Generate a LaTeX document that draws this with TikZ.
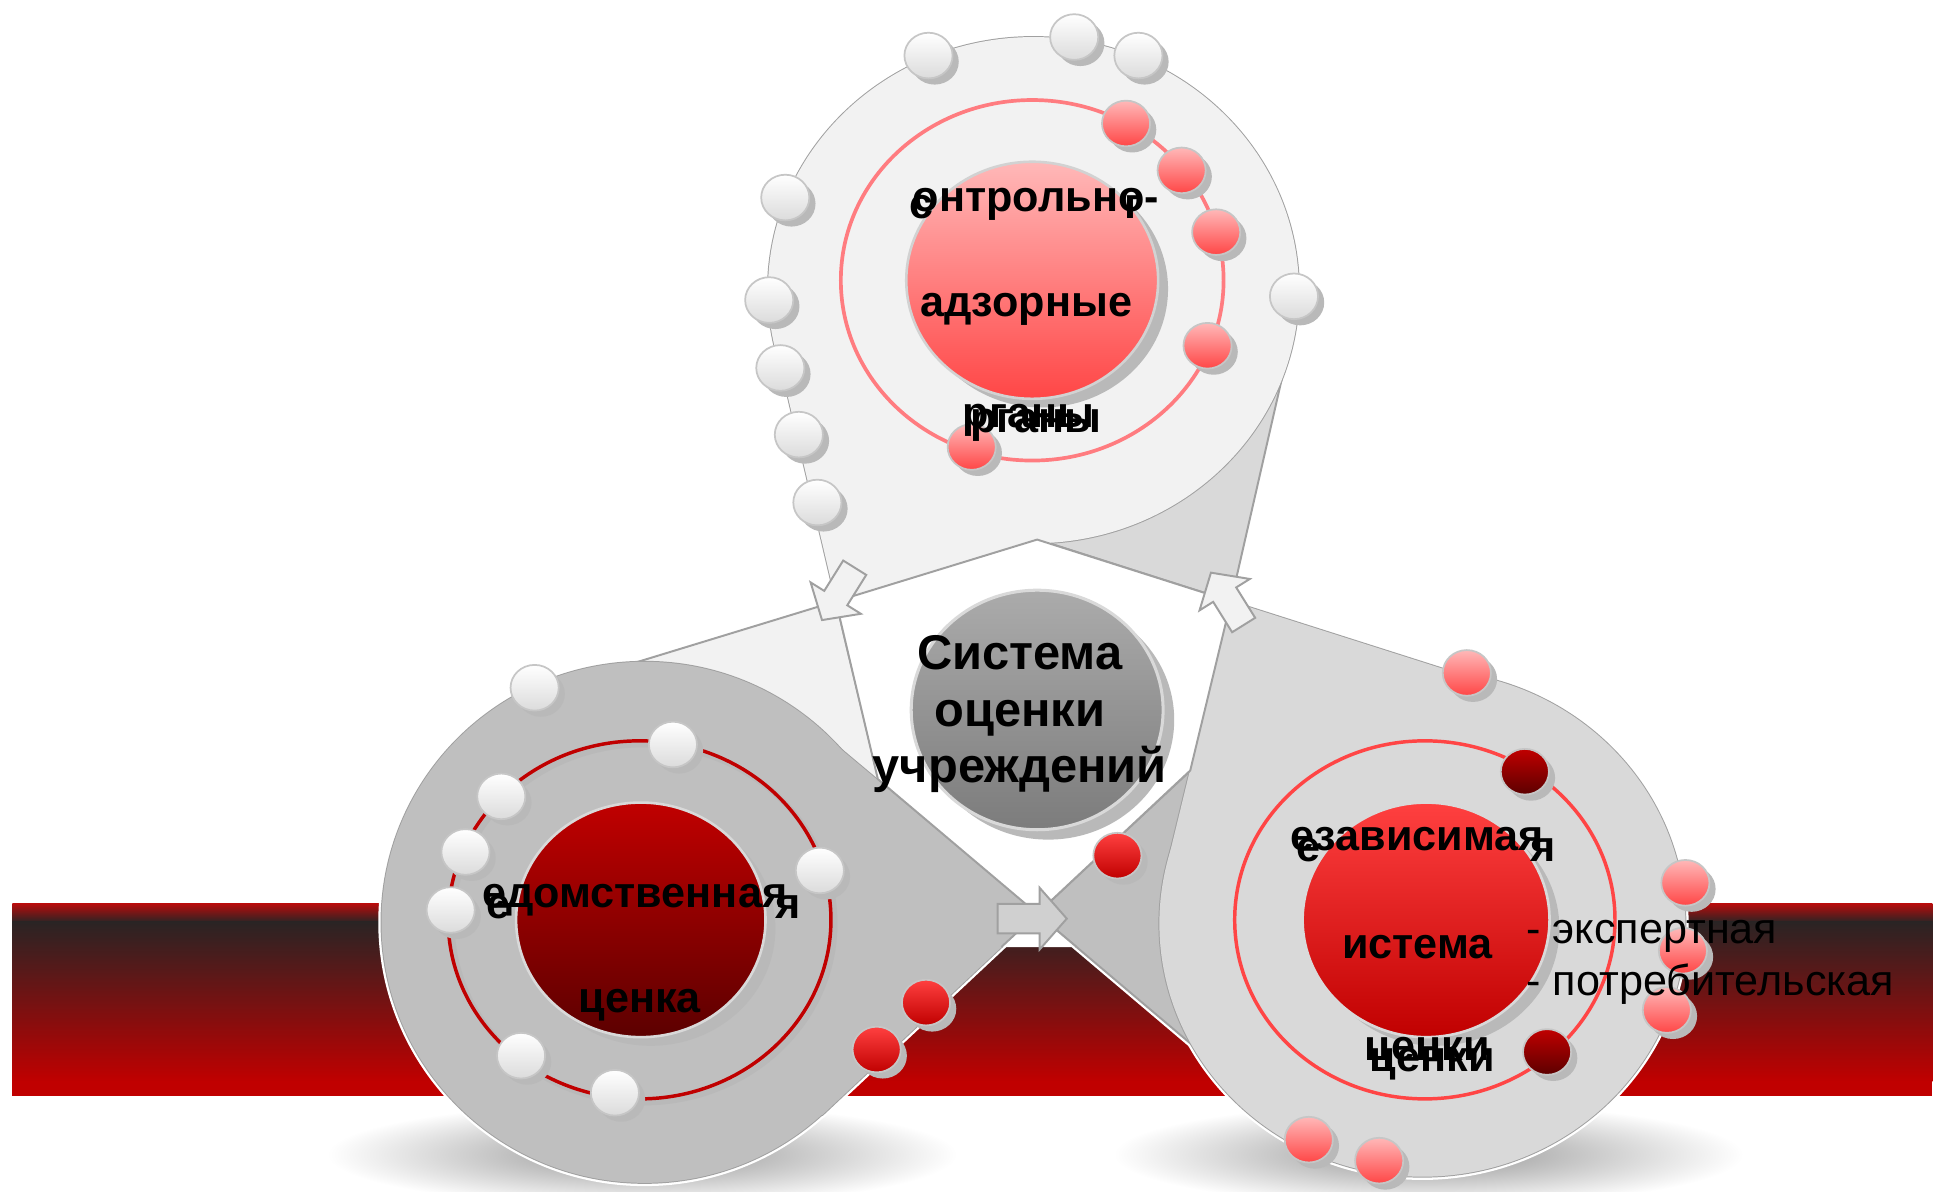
\documentclass[tikz,border=0pt]{standalone}
\usepackage{fontspec}
\setmainfont{Liberation Sans}
\definecolor{bandtop}{HTML}{B50C0C}
\definecolor{banddark}{HTML}{2A2424}
\definecolor{bandred}{HTML}{C00000}
\definecolor{lightF}{HTML}{F2F2F2}
\definecolor{midD}{HTML}{D9D9D9}
\definecolor{darkC}{HTML}{BFBFBF}
\definecolor{edgeg}{HTML}{A0A0A0}
\definecolor{ringpink}{HTML}{FF7C80}
\definecolor{ringred}{HTML}{FF4545}
\definecolor{pinktop}{HTML}{FFB8B8}
\definecolor{pinkbot}{HTML}{FF4646}
\definecolor{redtop}{HTML}{FF4040}
\definecolor{redbot}{HTML}{C00000}
\definecolor{drtop}{HTML}{C00000}
\definecolor{drbot}{HTML}{5C0000}
\definecolor{systop}{HTML}{ABABAB}
\definecolor{sysbot}{HTML}{7C7C7C}
\definecolor{arrB}{HTML}{D0D0D0}
\tikzset{
 edge/.style={draw=edgeg, line width=0.9pt, line join=round},
 halo/.style={draw=white, line width=3pt, line join=round},
 ballshadow/.style={fill=gray!55},
 wball/.style={top color=white, bottom color=gray!28, draw=gray!45, line width=0.8pt},
 pball/.style={top color=pinktop, bottom color=pinkbot, draw=gray!45, line width=0.8pt},
 rball/.style={top color=redtop, bottom color=redbot, draw=gray!45, line width=0.8pt},
 dball/.style={top color=drtop, bottom color=drbot, draw=gray!45, line width=0.8pt},
 lbl/.style={font=\bfseries\fontsize{19.9}{23}\selectfont, inner sep=0pt, anchor=base},
 sys/.style={font=\bfseries\fontsize{22.5}{26}\selectfont, inner sep=0pt, anchor=base},
 item/.style={font=\fontsize{19.9}{23}\selectfont, inner sep=0pt, anchor=base west},
 blockarrow/.style={draw=edgeg, line width=0.9pt, line join=miter},
}
\begin{document}
\begin{tikzpicture}[x=0.02cm,y=-0.02cm]
\useasboundingbox (0,0) rectangle (1568,965);
\fill[white] (0,0) rectangle (1568,965);
% floor shadows
\shade[inner color=gray!85, outer color=white] (520,935) ellipse (255 and 42);
\shade[inner color=gray!85, outer color=white] (1157,935) ellipse (255 and 42);
% band
\shade[top color=bandtop, bottom color=banddark] (10,732) rectangle (1565,747);
\shade[top color=banddark, bottom color=bandred] (10,746.5) rectangle (1565,876);
\fill[bandred] (10,875.5) rectangle (1565,888);
% key points
\coordinate (CT) at (837,235);
\coordinate (CL) at (522,747);
\coordinate (CR) at (1152,748);
\coordinate (XL) at (677,487);
\coordinate (XR) at (997,487);
\coordinate (XB) at (840,740);
\coordinate (A) at (840,437);
\coordinate (V1) at (964,624);
\coordinate (V2) at (711,631);
% halos
\path[halo] (XL) -- (461,553) -- (CL) -- (728,701) -- cycle;
\path[halo] (XB) -- (1005,586) -- (CR) -- (1029,900) -- cycle;
\path[halo] (XR) -- (800,424) -- (CT) -- (1042,290) -- cycle;
\path[halo] (CT) ellipse (215 and 205);
\path[halo] (CL) ellipse (213 and 211);
\path[halo] (CR) ellipse (213 and 205);
\path[halo] (XB) -- (661,590) -- (CL) -- (666,903) -- cycle;
\path[halo] (XR) -- (1217,557) -- (CR) -- (946,697) -- cycle;
% far fans
\path[fill=lightF, edge] (XL) -- (461,553) -- (CL) -- (728,701) -- cycle;
\path[fill=darkC, edge] (XB) -- (1005,586) -- (CR) -- (1029,900) -- cycle;
\path[fill=midD, edge] (XR) -- (800,424) -- (CT) -- (1042,290) -- cycle;
% top shape
\path[fill=lightF, edge] (XL) -- (631,291) -- (CT) -- (A) -- cycle;
\path[fill=lightF, edge] (CT) ellipse (215 and 205);
\fill[lightF] (XL) -- (631,291) -- (CT) -- (A) -- cycle;
\fill[lightF] (CT) ellipse (215 and 205);
% bottom-left shape
\path[fill=darkC, edge] (XB) -- (661,590) -- (CL) -- (666,903) -- cycle;
\path[fill=darkC, edge] (CL) ellipse (213 and 211);
\fill[darkC] (XB) -- (661,590) -- (CL) -- (666,903) -- cycle;
\fill[darkC] (CL) ellipse (213 and 211);
% bottom-right shape
\path[fill=midD, edge] (XR) -- (1217,557) -- (CR) -- (946,697) -- cycle;
\path[fill=midD, edge] (CR) ellipse (213 and 205);
\fill[midD] (XR) -- (1217,557) -- (CR) -- (946,697) -- cycle;
\fill[midD] (CR) ellipse (213 and 205);
% white centre
\path[fill=white, edge] (XL) -- (A) -- (XR) -- (V1) -- (XB) -- (V2) -- cycle;
\fill[white] (XB) -- (811,767) -- (872,767) -- cycle;
\draw[edge] (811,767) -- (XB) -- (872,767);
% rings and inner circles
\draw[ringpink, line width=1.7pt] (836,227) ellipse (155 and 146);
\fill[gray!55] (844,234) ellipse (102 and 96);
\path[top color=pinktop, bottom color=pinkbot, draw=gray!35, line width=1.2pt] (836,227) ellipse (102 and 96);
\draw[gray!55, line width=2.6pt] (521,748) ellipse (155 and 145);
\draw[redbot, line width=1.6pt] (518,745) ellipse (155 and 145);
\fill[gray!55] (527,752) ellipse (101 and 95);
\path[top color=drtop, bottom color=drbot, draw=gray!30, line width=1.2pt] (519,745) ellipse (101 and 95);
\draw[ringred, line width=1.6pt] (1154,745) ellipse (154 and 145);
\fill[gray!55] (1163,752) ellipse (100 and 95);
\path[top color=redtop, bottom color=redbot, draw=gray!30, line width=1.2pt] (1155,745) ellipse (100 and 95);
\fill[gray!55] (849,583) ellipse (102 and 97);
\path[top color=systop, bottom color=sysbot, draw=gray!30, line width=1.4pt] (840,575) ellipse (102 and 97);
% balls
\foreach \x/\y in {752/45,870/30,922/45,636/160,623/243,632/298,647/352,662/407,1048/240,
                   433/557,545/603,406/645,377/690,365/737,664/705,422/855,498/885}{
  \fill[ballshadow] (\x+5,\y+5) ellipse (19.5 and 18.5);
  \path[wball] (\x,\y) ellipse (19.5 and 18.5);}
\foreach \x/\y in {912/100,957/138,985/188,978/280,787/362,1188/545,1365/715,1363/770,1350/818,1060/923,1117/940}{
  \fill[ballshadow] (\x+5,\y+5) ellipse (19.5 and 18.5);
  \path[pball] (\x,\y) ellipse (19.5 and 18.5);}
\foreach \x/\y in {750/812,710/850,905/693}{
  \fill[ballshadow] (\x+5,\y+5) ellipse (19.5 and 18.5);
  \path[rball] (\x,\y) ellipse (19.5 and 18.5);}
\foreach \x/\y in {1235/625,1253/852}{
  \fill[ballshadow] (\x+5,\y+5) ellipse (19.5 and 18.5);
  \path[dball] (\x,\y) ellipse (19.5 and 18.5);}
% block arrows at the crossings
\begin{scope}[shift={(679,481)}, rotate=238]
\path[blockarrow, fill=lightF] (-25,-11) -- (4,-11) -- (4,-24) -- (25,0) -- (4,24) -- (4,11) -- (-25,11) -- cycle;
\end{scope}
\begin{scope}[shift={(994,485)}, rotate=122]
\path[blockarrow, fill=lightF] (-25,-11) -- (4,-11) -- (4,-24) -- (25,0) -- (4,24) -- (4,11) -- (-25,11) -- cycle;
\end{scope}
\begin{scope}[shift={(836,744)}]
\path[blockarrow, fill=arrB] (-28,-12) -- (6,-12) -- (6,-25) -- (28,0) -- (6,25) -- (6,12) -- (-28,12) -- cycle;
\end{scope}
% texts
\node[lbl] (t1) at (839,171) {онтрольно-};
\node[lbl] (t1g) at (746,177) {с};
\node[lbl] (t1h) at (918,177) {г};
\node[lbl] (t2) at (831,256) {адзорные};
\node[lbl] (t3) at (839,350) {рганы};
\node[lbl] (t3g) at (833,346) {рганы};
\node[lbl] (b1) at (514,735) {едомственная};
\node[lbl] (b1g) at (404,744) {е};
\node[lbl] (b1h) at (638,744) {я};
\node[lbl] (b2) at (518,820) {ценка};
\node[lbl] (r1) at (1148,689) {езависимая};
\node[lbl] (r1g) at (1060,698) {е};
\node[lbl] (r1h) at (1250,698) {я};
\node[lbl] (r2) at (1148,776) {истема};
\node[lbl] (r3) at (1156,859) {ценки};
\node[lbl] (r3g) at (1160,868) {ценки};
\node[item] (e1) at (1236,764) {- экспертная};
\node[item] (e2) at (1236,806) {- потребительская};
\node[sys] (s1) at (826,542) {Система};
\node[sys] (s2) at (826,588) {оценки};
\node[sys] (s3) at (826,634) {учреждений};
\end{tikzpicture}
\end{document}
